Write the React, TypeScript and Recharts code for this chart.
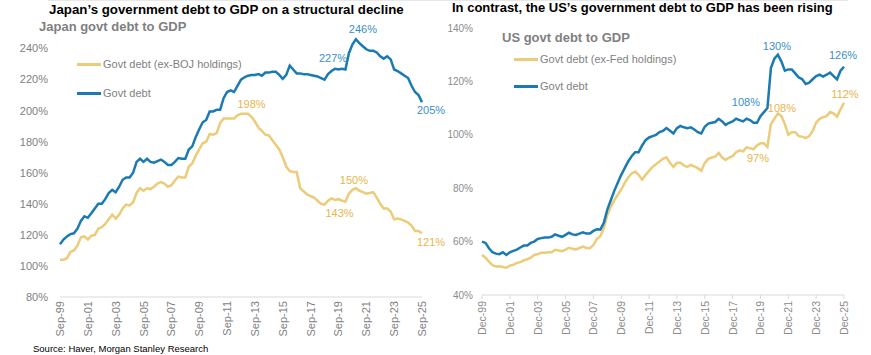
import { LineChart, Line, XAxis, YAxis, LabelList } from 'recharts';

// quarterly, Sep-99 .. Sep-25 (% of GDP)
const japanGovtDebt = [
  114, 117, 119, 120.5, 121, 124, 129, 132, 131, 134,
  137, 140, 140, 143, 147, 149, 147.5, 151, 155.5, 157,
  157, 160, 167, 169, 167, 169, 167, 166.5, 167.5, 168.5,
  167, 165, 165, 167, 169.5, 169, 169, 175, 177, 183,
  188, 192.5, 194, 199.5, 199.5, 200.5, 200.5, 208, 212, 213,
  212, 216, 220, 221.5, 222.5, 223, 223, 223.5, 222.5, 224.5,
  224.5, 225, 225, 223, 220.5, 223, 229, 226.5, 224, 224,
  223.5, 223.5, 223, 222.5, 222, 221, 220, 223.5, 225.5, 227,
  226.5, 227, 226.5, 237, 242.5, 246, 243.5, 241.5, 239.5, 238.5,
  238.5, 237.5, 235, 233.5, 235, 233, 226.5, 225.5, 224, 222.5,
  221, 216, 212, 210, 205.5,
];
const japanExBoj = [
  104, 104, 105, 109, 110, 113, 118.5, 119, 117, 119.5,
  120, 124, 125, 127, 130, 133, 130.5, 133, 137, 139.5,
  139, 141, 147, 150, 148.5, 150, 149.5, 151, 153, 154,
  153, 151, 152, 155, 157.5, 157, 157, 164, 166, 171,
  175, 179, 180, 185, 184.5, 185.5, 192, 195, 195, 195,
  195, 197, 198, 198, 198, 196, 193, 189, 187, 184.5,
  184, 181, 178, 175, 170, 164, 161, 160.5, 160.5, 150,
  148, 146, 145, 144, 142, 140, 139.5, 142, 143.5, 142.5,
  143, 142, 141.5, 146.5, 149, 150, 148.5, 147.5, 146.5, 147,
  147.5, 144, 140, 137, 137, 135, 130, 130.5, 130, 129,
  128, 126, 122.5, 122.5, 121,
];

// quarterly, Dec-99 .. Dec-25 (% of GDP)
const usGovtDebt = [
  60, 59.5, 57.5, 56, 55.5, 55.3, 56, 55, 56, 56.5,
  57, 57.8, 58.5, 58.5, 59.5, 60, 61, 61.3, 61.5, 61.5,
  61.8, 62.7, 62.2, 61.8, 62.5, 63.3, 62.7, 62.5, 63, 63.5,
  63, 63, 64, 64.6, 64.5, 67, 72, 75.5, 79, 82,
  85, 87.5, 90, 92, 93.5, 93.5, 96, 98, 99, 99.5,
  100, 101, 101.5, 102.5, 101.5, 100.5, 102.5, 103.3, 102.8, 102.5,
  102.8, 102, 101, 100.5, 103, 104.2, 104.5, 104.8, 106, 105,
  103.7, 104.5, 105, 106, 105.5, 105, 106, 105.5, 104.5, 104.5,
  107, 108.5, 110, 125, 128.5, 130, 127.5, 124, 124.5, 124.5,
  123, 121.5, 120.8, 119, 119.5, 120.8, 122, 122.5, 121.8, 122.5,
  123.3, 122, 120.8, 124, 125.5,
];
const usExFed = [
  55, 54, 52.5, 51.2, 50.7, 50.8, 50.5, 50.2, 51, 51.3,
  52, 52.3, 53, 53.4, 54, 55, 55.3, 55.8, 55.8, 56,
  56, 56.9, 56.7, 56.4, 57, 57.7, 57.3, 57.1, 57.6, 58.1,
  57.6, 57.5, 58.7, 61, 62, 65, 70, 73, 75.5, 77.5,
  79.5, 82, 84, 85.5, 86.2, 85, 83.2, 85, 86.5, 88,
  89, 90, 91, 91.6, 89.5, 88, 89.5, 89.5, 88.5, 88,
  88.7, 88.2, 87.5, 86.5, 89.5, 91, 91.5, 91.8, 93.2, 91.5,
  90.6, 91.5, 92, 93.5, 94.2, 93.8, 95.3, 95, 94.6, 96,
  96.8, 96.8, 95.5, 104, 106, 108, 107, 104, 100, 101,
  101, 99.5, 99.3, 98.8, 99.5, 101.5, 104.5, 106, 106.6, 107,
  108.5, 108, 106.8, 109.5, 112,
];

const japanTicks = ['Sep-99', 'Sep-01', 'Sep-03', 'Sep-05', 'Sep-07', 'Sep-09', 'Sep-11', 'Sep-13', 'Sep-15', 'Sep-17', 'Sep-19', 'Sep-21', 'Sep-23', 'Sep-25'];
const usTicks = ['Dec-99', 'Dec-01', 'Dec-03', 'Dec-05', 'Dec-07', 'Dec-09', 'Dec-11', 'Dec-13', 'Dec-15', 'Dec-17', 'Dec-19', 'Dec-21', 'Dec-23', 'Dec-25'];
const japanYTicks = [80, 100, 120, 140, 160, 180, 200, 220, 240];
const usYTicks = [40, 60, 80, 100, 120, 140];

// callouts: quarter index -> text
const japanDebtNotes = [{ i: 85, text: '246%' }, { i: 79, text: '227%' }, { i: 104, text: '205%' }];
const japanExNotes = [{ i: 53, text: '198%' }, { i: 85, text: '150%' }, { i: 80, text: '143%' }, { i: 104, text: '121%' }];
const usDebtNotes = [{ i: 85, text: '130%' }, { i: 104, text: '126%' }, { i: 81, text: '108%' }];
const usExNotes = [{ i: 85, text: '108%' }, { i: 81, text: '97%' }, { i: 104, text: '112%' }];

const offsets: Record<string, [number, number]> = {
  'jd85': [7, -10], 'jd79': [-2, -11], 'jd104': [9, 8],
  'je53': [7, -10], 'je85': [-2, -8], 'je80': [1, 14], 'je104': [9, 9],
  'ud85': [-1, -9], 'ud104': [-1, -12], 'ud81': [-18, -10],
  'ue85': [4, -5], 'ue81': [-6, 15], 'ue104': [1, -9],
};

const BLUE = '#1a7ab3';
const YELLOW = '#eccb79';
const BLUE_TXT = '#3a8fc8';
const YELLOW_TXT = '#e6b54c';
const FONT = '"Liberation Sans", Arial, sans-serif';

const jpData = japanGovtDebt.map((v, i) => ({ i, debt: v, ex: japanExBoj[i] }));
const usData = usGovtDebt.map((v, i) => ({ i, debt: v, ex: usExFed[i] }));
const xTicks = japanTicks.map((_, k) => k * 8);

function notes(list: { i: number; text: string }[], key: string, color: string) {
  return (p: any) => {
    const n = list.find((a) => a.i === p.index);
    if (!n) return null;
    const [dx, dy] = offsets[key + n.i] || [0, -10];
    return (
      <text x={p.x + dx} y={p.y + dy} textAnchor="middle" dominantBaseline="central" fill={color} fontSize={11} fontFamily={FONT}>
        {n.text}
      </text>
    );
  };
}

function rotTick(labels: string[], size: number, color: string) {
  return (p: any) => (
    <text
      transform={`translate(${p.x},${p.y}) rotate(-90)`}
      textAnchor="end"
      dominantBaseline="central"
      fontSize={size}
      fill={color}
      fontFamily={FONT}
    >
      {labels[Math.round(p.payload.value / 8)]}
    </text>
  );
}

const legendRow = (color: string, text: string, left: number, top: number, size: number) => (
  <div style={{ position: 'absolute', left, top, display: 'flex', alignItems: 'center', fontSize: size, color: '#7f7f7f' }}>
    <span style={{ display: 'inline-block', width: 24, height: 3, background: color, marginRight: 2 }} />
    {text}
  </div>
);

export default function App() {
  return (
    <div style={{ position: 'absolute', left: 0, top: 0, width: 871, height: 355, background: '#fff', overflow: 'hidden', fontFamily: FONT }}>
      <div style={{ position: 'absolute', left: 48, top: 0, width: 800, height: 1, background: '#e8e8e8' }} />

      <div style={{ position: 'absolute', left: 0, top: 0, width: 460, height: 355 }}>
        <LineChart width={460} height={355} data={jpData} margin={{ top: 33, right: 38, bottom: 13, left: 10 }}>
          <XAxis
            type="number"
            dataKey="i"
            domain={[0, 104]}
            ticks={xTicks}
            interval={0}
            height={45}
            axisLine={{ stroke: '#d9d9d9' }}
            tickLine={false}
            tickSize={0}
            tickMargin={4}
            tick={rotTick(japanTicks, 11, '#7f7f7f')}
          />
          <YAxis
            domain={[80, 250]}
            ticks={japanYTicks}
            interval={0}
            width={50}
            axisLine={false}
            tickLine={false}
            tickSize={0}
            tickMargin={12}
            tick={{ fontSize: 11, fill: '#7f7f7f', fontFamily: FONT }}
            tickFormatter={(v) => `${v}%`}
          />
          <Line dataKey="ex" stroke={YELLOW} strokeWidth={2.5} dot={false} isAnimationActive={false}>
            <LabelList dataKey="ex" content={notes(japanExNotes, 'je', YELLOW_TXT)} />
          </Line>
          <Line dataKey="debt" stroke={BLUE} strokeWidth={2.5} dot={false} isAnimationActive={false}>
            <LabelList dataKey="debt" content={notes(japanDebtNotes, 'jd', BLUE_TXT)} />
          </Line>
        </LineChart>
        <div style={{ position: 'absolute', left: 49, top: 2, width: 400, fontSize: 13.3, fontWeight: 'bold', color: '#000', whiteSpace: 'nowrap', lineHeight: '16px' }}>
          Japan’s government debt to GDP on a structural decline
        </div>
        <div style={{ position: 'absolute', left: 39, top: 19, fontSize: 13, fontWeight: 'bold', color: '#7f7f7f', lineHeight: '16px' }}>
          Japan govt debt to GDP
        </div>
        {legendRow(YELLOW, 'Govt debt (ex-BOJ holdings)', 77, 58, 11)}
        {legendRow(BLUE, 'Govt debt', 77, 87, 11)}
      </div>

      <div style={{ position: 'absolute', left: 440, top: 0, width: 431, height: 355 }}>
        <LineChart width={431} height={355} data={usData} margin={{ top: 28, right: 27, bottom: 15, left: 2 }}>
          <XAxis
            type="number"
            dataKey="i"
            domain={[0, 104]}
            ticks={xTicks}
            interval={0}
            height={45}
            axisLine={{ stroke: '#d9d9d9' }}
            tickLine={{ stroke: '#d9d9d9' }}
            tickSize={4}
            tickMargin={2}
            tick={rotTick(usTicks, 10.5, '#8c8c8c')}
          />
          <YAxis
            domain={[40, 140]}
            ticks={usYTicks}
            interval={0}
            width={40}
            axisLine={false}
            tickLine={false}
            tickSize={0}
            tickMargin={9}
            tick={{ fontSize: 10, fill: '#8c8c8c', fontFamily: FONT }}
            tickFormatter={(v) => `${v}%`}
          />
          <Line dataKey="ex" stroke={YELLOW} strokeWidth={2.5} dot={false} isAnimationActive={false}>
            <LabelList dataKey="ex" content={notes(usExNotes, 'ue', YELLOW_TXT)} />
          </Line>
          <Line dataKey="debt" stroke={BLUE} strokeWidth={2.5} dot={false} isAnimationActive={false}>
            <LabelList dataKey="debt" content={notes(usDebtNotes, 'ud', BLUE_TXT)} />
          </Line>
        </LineChart>
        <div style={{ position: 'absolute', left: 12, top: 0, width: 420, fontSize: 13, fontWeight: 'bold', color: '#000', whiteSpace: 'nowrap', lineHeight: '16px' }}>
          In contrast, the US’s government debt to GDP has been rising
        </div>
        <div style={{ position: 'absolute', left: 62, top: 30, fontSize: 13, fontWeight: 'bold', color: '#7f7f7f', lineHeight: '16px' }}>
          US govt debt to GDP
        </div>
        {legendRow(YELLOW, 'Govt debt (ex-Fed holdings)', 74, 53, 11)}
        {legendRow(BLUE, 'Govt debt', 74, 80, 11)}
      </div>

      <div style={{ position: 'absolute', left: 33, top: 343, fontSize: 9.5, color: '#000', lineHeight: '12px' }}>
        Source: Haver, Morgan Stanley Research
      </div>
    </div>
  );
}
